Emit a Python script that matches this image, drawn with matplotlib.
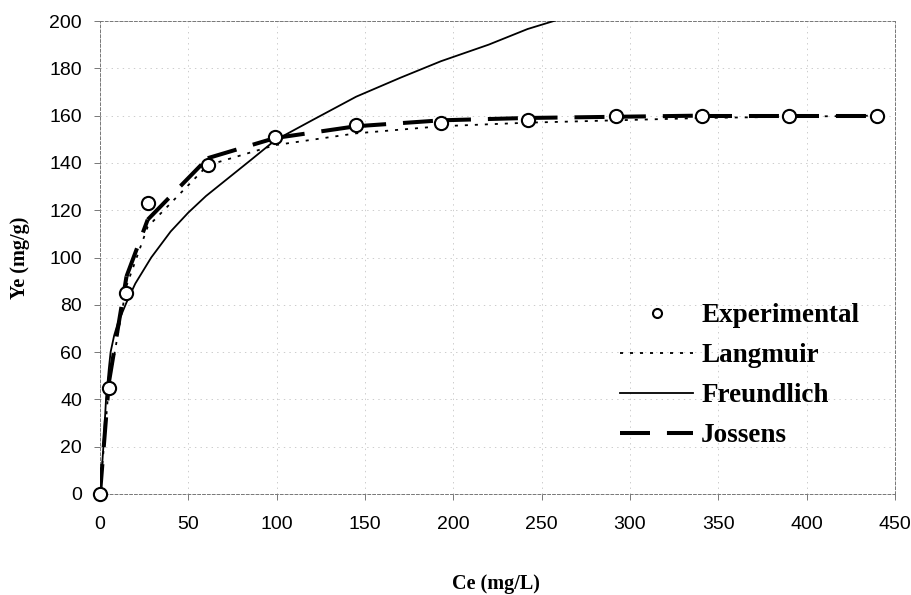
import matplotlib
matplotlib.use("Agg")
import matplotlib.pyplot as plt
from matplotlib.lines import Line2D

plt.rcParams["lines.scale_dashes"] = False

# experimental points
ce_exp = [0, 5, 15, 27, 61, 99, 145, 193, 242, 292, 341, 390, 440]
ye_exp = [0, 45, 85, 123, 139, 151, 156, 157, 158, 160, 160, 160, 160]

# model curves
ce_lang = [0, 5, 15, 27, 61, 99, 145, 193, 242, 292, 341, 390, 440]
ye_lang = [0, 46, 88, 113, 139, 147.5, 152.5, 155.5, 157, 158, 159, 159.5, 160]

ce_freu = [0, 1, 2, 3.4, 5, 6, 8, 10, 15, 20, 29, 40, 50, 60, 70, 85, 99,
           120, 145, 170, 193, 220, 242, 270, 292]
ye_freu = [0, 10, 21, 40, 53, 60, 67, 72, 81, 89, 100, 111, 119, 126, 132, 141, 149.5,
           158, 168, 176, 183, 190, 196.6, 203, 208]

ce_joss = [0, 5, 15, 27, 61, 99, 145, 193, 242, 292, 341, 390, 440]
ye_joss = [0, 47, 92, 116, 142, 150.5, 155.5, 158, 159, 159.5, 160, 160, 160]

x_ticks = [0, 50, 100, 150, 200, 250, 300, 350, 400, 450]
y_ticks = [0, 20, 40, 60, 80, 100, 120, 140, 160, 180, 200]

serif = ["Liberation Serif", "DejaVu Serif"]
sans = ["Liberation Sans", "DejaVu Sans"]

fig = plt.figure(figsize=(9.12, 5.95), dpi=100)
ax = fig.add_axes([100 / 912, 1 - 494 / 595, 795 / 912, 473 / 595])

ax.grid(True, color="#b8b8b8", linewidth=0.5, linestyle=(0, (1.0, 3.0)))
ax.set_axisbelow(True)
for side in ("left", "right", "top", "bottom"):
    ax.spines[side].set_color("#777777")
    ax.spines[side].set_linewidth(0.7)
    ax.spines[side].set_linestyle((0, (2.0, 1.5)))

joss_ls = (0, (21.6, 12.2))
lang_ls = (0, (2.2, 5.0))

# Jossens: dash pattern restarts at every vertex, as the source software does
for i in range(len(ce_joss) - 1):
    ax.plot(ce_joss[i:i + 2], ye_joss[i:i + 2], color="black", linewidth=2.9,
            linestyle=joss_ls, dash_capstyle="butt", zorder=3)
ax.plot(ce_lang, ye_lang, color="black", linewidth=1.3, linestyle=lang_ls, zorder=4)
ax.plot(ce_freu, ye_freu, color="black", linewidth=1.3, linestyle="-", zorder=4)
ax.plot(ce_exp, ye_exp, linestyle="none", marker="o", markersize=9.5,
        markerfacecolor="white", markeredgecolor="black", markeredgewidth=1.5,
        zorder=6, clip_on=False)

ax.set_xlim(0, 450)
ax.set_ylim(0, 200)
ax.set_xticks(x_ticks)
ax.set_yticks(y_ticks)
ax.tick_params(axis="x", direction="out", length=4, width=0.7, color="#777777", pad=12,
               labelsize=14)
ax.tick_params(axis="y", direction="out", length=4, width=0.7, color="#777777", pad=9,
               labelsize=14)
for lab in ax.get_xticklabels() + ax.get_yticklabels():
    lab.set_family(sans)

fig.text(20 / 912, 1 - 258 / 595, "Ye (mg/g)", rotation=90, ha="center", va="center",
         family=serif, fontweight="bold", fontsize=14.5)
fig.text(496 / 912, 1 - 584 / 595, "Ce (mg/L)", ha="center", va="center",
         family=serif, fontweight="bold", fontsize=14.5)

handles = [
    Line2D([], [], linestyle="none", marker="o", markersize=6.5, markerfacecolor="white",
           markeredgecolor="black", markeredgewidth=1.5),
    Line2D([], [], color="black", linewidth=1.3, linestyle=lang_ls),
    Line2D([], [], color="black", linewidth=1.3, linestyle="-"),
    Line2D([], [], color="black", linewidth=2.9, linestyle=joss_ls, dash_capstyle="butt"),
]
labels = ["Experimental", "Langmuir", "Freundlich", "Jossens"]
fig.legend(handles, labels, loc="upper left", bbox_to_anchor=(620 / 912, 1 - 303 / 595),
           frameon=False, handlelength=2.7, handletextpad=0.3, labelspacing=0.56,
           borderpad=0, borderaxespad=0,
           prop={"family": serif, "weight": "bold", "size": 19.5})

fig.savefig("out.png", dpi=100)
